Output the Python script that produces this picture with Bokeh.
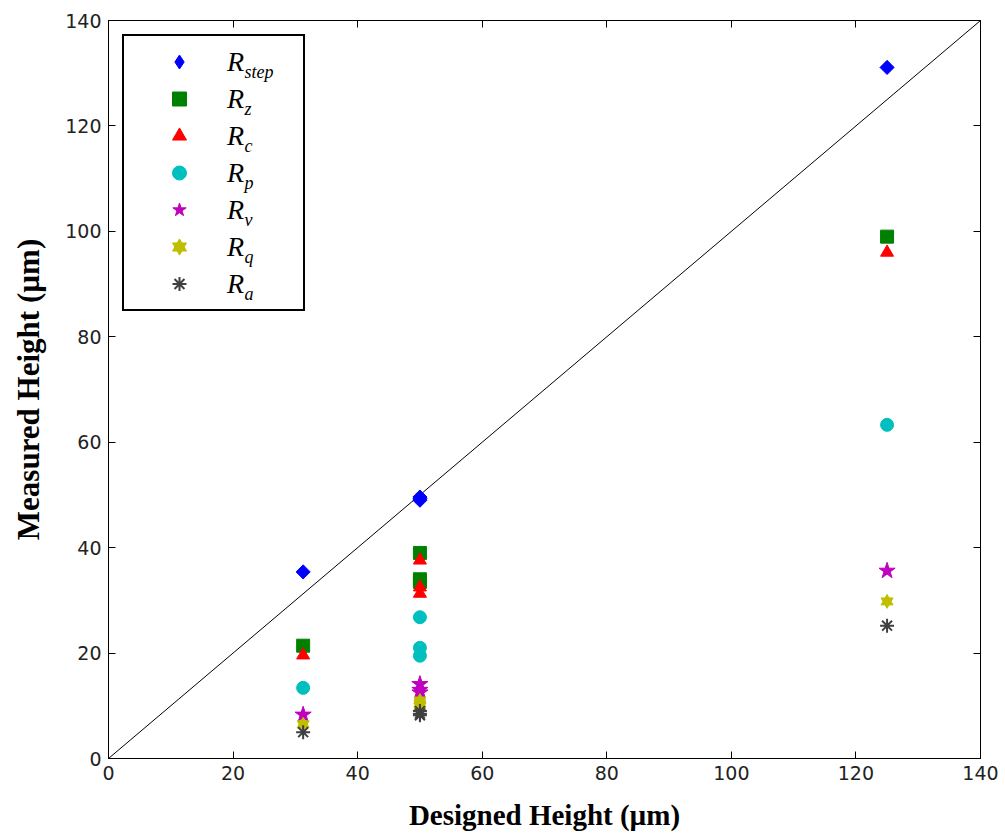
import math
from bokeh.plotting import figure
from bokeh.models import Legend, LegendItem, Label, LinearAxis, Range1d, FixedTicker
from bokeh.embed import file_html
from bokeh.resources import INLINE

# ---- data ----
designed = [31.25, 50, 50, 50, 125]
r_step = [35.4, 49.3, 49.6, 49.0, 131.1]
r_z = [21.4, 39.0, 34.0, 33.5, 99.0]
r_c = [19.6, 37.6, 32.5, 31.3, 96.0]
r_p = [13.4, 26.8, 21.0, 19.5, 63.3]
r_v = [8.3, 14.1, 13.0, 12.5, 35.6]
r_q = [6.5, 11.0, 10.4, 10.0, 29.8]
r_a = [5.0, 9.0, 8.5, 8.2, 25.2]
ideal = [0, 140]
ticks = [0, 20, 40, 60, 80, 100, 120, 140]
subs = ["step", "z", "c", "p", "v", "q", "a"]

p = figure(width=1005, height=838, output_backend="svg", toolbar_location=None,
           x_range=Range1d(0, 140), y_range=Range1d(0, 140),
           min_border_left=108, min_border_right=25, min_border_top=20,
           min_border_bottom=80)
p.xgrid.visible = False
p.ygrid.visible = False
p.outline_line_color = "black"
p.outline_line_width = 1
p.background_fill_color = "white"
p.border_fill_color = "white"

ticker = FixedTicker(ticks=ticks)
p.xaxis.ticker = ticker
p.yaxis.ticker = ticker
p.xaxis.axis_label = "Designed Height (µm)"
p.yaxis.axis_label = "Measured Height (µm)"
for ax in (p.xaxis[0], p.yaxis[0]):
    ax.major_tick_in = 7
    ax.major_tick_out = 0
    ax.minor_tick_in = 0
    ax.minor_tick_out = 0
    ax.axis_line_color = "black"
    ax.major_tick_line_color = "black"
    ax.major_label_text_font = "DejaVu Sans"
    ax.major_label_text_font_size = "19px"
    ax.major_label_text_color = "#222222"
    ax.major_label_standoff = 7
    ax.axis_label_text_font = "Liberation Serif"
    ax.axis_label_text_font_style = "bold"
    ax.axis_label_text_color = "black"
p.xaxis.axis_label_text_font_size = "29px"
p.yaxis.axis_label_text_font_size = "31px"
p.xaxis.axis_label_standoff = 16
p.yaxis.axis_label_standoff = 16

# mirrored tick marks on the top and right edges (no labels)
for loc in ("right", "above"):
    a = LinearAxis(ticker=FixedTicker(ticks=ticks), major_tick_in=7, major_tick_out=0,
                   minor_tick_in=0, minor_tick_out=0,
                   major_label_overrides={t: "" for t in ticks},
                   major_label_standoff=0, axis_line_color="black")
    p.add_layout(a, loc)

# identity line
p.line(ideal, ideal, line_color="black", line_width=1)

r1 = p.scatter(designed, r_step, marker="square", angle=math.pi / 4, size=10, color="#0000ff")
r1_key = p.scatter(designed, r_step, marker="diamond", size=14, color="#0000ff", visible=False)
r2 = p.scatter(designed, r_z, marker="square", size=13, color="#008000")
r3 = p.scatter(designed, r_c, marker="triangle", size=13, color="#ff0000")
r4 = p.scatter(designed, r_p, marker="circle", size=13, color="#00bfbf")
r5 = p.scatter(designed, r_v, marker="star", size=17, color="#bf00bf")
r6a = p.scatter(designed, r_q, marker="triangle", size=12, color="#bfbf00")
r6b = p.scatter(designed, r_q, marker="inverted_triangle", size=12, color="#bfbf00")
r7 = p.scatter(designed, r_a, marker="asterisk", size=14, line_color="#404040", line_width=2)

rends = [[r1_key], [r2], [r3], [r4], [r5], [r6a, r6b], [r7]]
items = [LegendItem(label="R", renderers=r) for r in rends]
legend = Legend(items=items, location="top_left", margin=14, padding=8, spacing=2,
                glyph_height=35, glyph_width=94, label_height=35, label_width=68,
                label_standoff=1, label_text_font="Liberation Serif",
                label_text_font_style="italic", label_text_font_size="28px",
                label_text_color="black", click_policy="none",
                border_line_color="black", border_line_width=2, border_line_alpha=1,
                background_fill_alpha=0)
p.add_layout(legend)

for i, s in enumerate(subs):
    p.add_layout(Label(x=136, y=758 - (71 + 37.1 * i), x_units="screen", y_units="screen",
                       text=s, text_font="Liberation Serif", text_font_style="italic",
                       text_font_size="18px", text_color="black",
                       text_baseline="alphabetic", level="overlay"))

open("out.html", "w").write(file_html(p, INLINE))
